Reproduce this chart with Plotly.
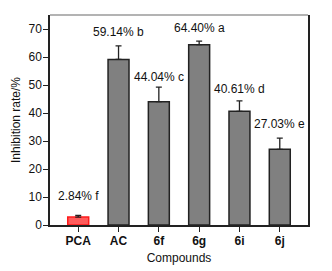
import plotly.graph_objects as go

categories = ["PCA", "AC", "6f", "6g", "6i", "6j"]
values = [2.84, 59.14, 44.04, 64.40, 40.61, 27.03]
errors = [0.6, 4.8, 5.2, 1.3, 3.7, 4.0]
letters = ["f", "b", "c", "a", "d", "e"]
y_ticks = [0, 10, 20, 30, 40, 50, 60, 70]

fill_colors = ["#ff5b5b"] + ["#808080"] * 5
line_colors = ["#ff1a1a"] + ["#222222"] * 5
label_gaps = [10, 5, 1, 4, 3, 5]

fig = go.Figure()
fig.add_trace(go.Bar(
    x=categories, y=values,
    width=0.52,
    marker=dict(color=fill_colors, line=dict(color=line_colors, width=1.5)),
    error_y=dict(type="data", array=errors, arrayminus=[0] * len(errors), symmetric=False,
                 color="#222222", thickness=1.3, width=3),
    showlegend=False,
))

for c, v, e, l, g in zip(categories, values, errors, letters, label_gaps):
    fig.add_annotation(x=c, y=v + e, text=f"{v:.2f}% {l}", showarrow=False,
                       yanchor="bottom", yshift=g,
                       font=dict(family="Liberation Sans, Arial", size=12, color="#111"))

fig.add_shape(type="line", xref="paper", yref="paper", x0=0, x1=1, y0=1, y1=1,
              line=dict(color="#9a9a9a", width=1.3))

fig.update_layout(
    width=332, height=271,
    margin=dict(l=50, r=24, t=15, b=46, autoexpand=False),
    paper_bgcolor="white", plot_bgcolor="white",
    font=dict(family="Liberation Sans, Arial", size=12, color="#111"),
    bargap=0.48,
)
fig.update_xaxes(
    range=[-0.7, 5.7], showline=True, linecolor="#222", linewidth=1.5, mirror=False,
    ticks="outside", ticklen=5, tickcolor="#222", tickwidth=1, ticklabelstandoff=-1,
    tickfont=dict(family="Liberation Sans, Arial", size=12, color="#111", weight="bold"),
    title=dict(text="Compounds", standoff=6, font=dict(size=12)),
    showgrid=False, zeroline=False, automargin=False,
)
fig.update_yaxes(
    range=[0, 75], tickvals=y_ticks, showline=True, linecolor="#222", linewidth=1.5, mirror=True,
    ticks="outside", ticklen=5, tickcolor="#222", tickwidth=1, ticklabelstandoff=-1,
    title=dict(text="Inhibition rate/%", standoff=5, font=dict(size=12)),
    showgrid=False, zeroline=False, automargin=False,
)

fig.write_html("out.html", config={"displayModeBar": False},
               post_script="document.body.style.margin='0';document.body.style.overflow='hidden';")
